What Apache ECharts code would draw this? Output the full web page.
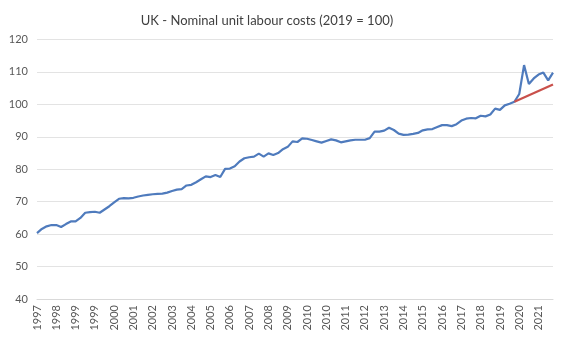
<!DOCTYPE html>
<html><head><meta charset="utf-8">
<script src="https://cdn.jsdelivr.net/npm/echarts@6/dist/echarts.min.js"></script>
<style>html,body{margin:0;padding:0;background:#fff}#c{width:565px;height:339px}</style>
</head><body><div id="c"></div>
<script>
// Tick labels as printed on the reference x axis (one per 4 quarters)
const tickLabels = ["1997","1998","1999","1999","2000","2001","2002","2003","2004","2005","2006","2007","2008","2009","2010","2010","2011","2012","2013","2014","2015","2016","2017","2018","2019","2020","2021"];
// Quarterly categories (108 points)
const categories = [];
for (let y = 1995; y <= 2021; y++) for (let q = 1; q <= 4; q++) categories.push(y + " Q" + q);
// Nominal unit labour costs (2019 = 100)
const ulc = [
 60.3,61.6,62.4,62.8, 62.8,62.2,63.1,63.9, 63.9,65.0,66.6,66.8,
 66.9,66.6,67.6,68.6, 69.8,70.9,71.1,71.0, 71.2,71.6,71.9,72.1,
 72.3,72.4,72.5,72.8, 73.3,73.7,73.9,75.0, 75.2,76.0,76.9,77.8,
 77.6,78.2,77.6,80.1, 80.2,80.9,82.4,83.4, 83.7,83.9,84.8,83.9,
 84.9,84.4,85.0,86.2, 86.9,88.6,88.4,89.5, 89.4,89.0,88.6,88.2,
 88.7,89.2,88.9,88.3, 88.6,88.9,89.1,89.1, 89.1,89.6,91.6,91.6,
 91.9,92.8,92.1,91.0, 90.6,90.7,90.9,91.2, 92.0,92.3,92.4,93.0,
 93.6,93.6,93.3,93.9, 95.0,95.6,95.8,95.7, 96.5,96.3,96.9,98.7,
 98.3,99.7,100.2,100.8, 103.2,112.1,106.3,108.0, 109.2,109.8,107.4,109.8
];
// Trend line: start (2019 Q4) and end (2021 Q4)
const trendStart = ["2019 Q4", 100.8];
const trendEnd = ["2021 Q4", 106.1];

const chart = echarts.init(document.getElementById('c'), null, {renderer:'canvas'});
const font = 'Lato, "Open Sans", sans-serif';
chart.setOption({
  animation: false,
  title: {
    text: 'UK - Nominal unit labour costs (2019 = 100)',
    left: 262, top: 9, textAlign: 'center',
    textStyle: {fontFamily: font, fontSize: 13, fontWeight: 'normal', color: '#404040'}
  },
  grid: {left: 37, right: 12, top: 39.5, bottom: 40, containLabel: false},
  xAxis: {
    type: 'category', data: categories, boundaryGap: false,
    axisLine: {show: true, lineStyle: {color: '#d9d9d9'}},
    axisTick: {show: false},
    axisLabel: {
      interval: 3, rotate: 90, margin: 6,
      fontFamily: font, fontSize: 11, color: '#595959',
      formatter: function (v, i) { return tickLabels[Math.floor(i / 4)] || ''; }
    },
    splitLine: {show: false}
  },
  yAxis: {
    type: 'value', min: 40, max: 120, interval: 10,
    axisLine: {show: false}, axisTick: {show: false},
    axisLabel: {fontFamily: font, fontSize: 11, color: '#595959', margin: 9},
    splitLine: {lineStyle: {color: '#e3e3e3', width: 1}}
  },
  series: [
    {type: 'line', data: ulc, showSymbol: false, smooth: false,
     lineStyle: {color: '#4f7bbd', width: 2.2}, itemStyle: {color: '#4f7bbd'}, z: 2},
    {type: 'line', data: [trendStart, trendEnd], showSymbol: false,
     lineStyle: {color: '#c9504b', width: 2.2}, itemStyle: {color: '#c9504b'}, z: 3}
  ]
});
</script></body></html>
